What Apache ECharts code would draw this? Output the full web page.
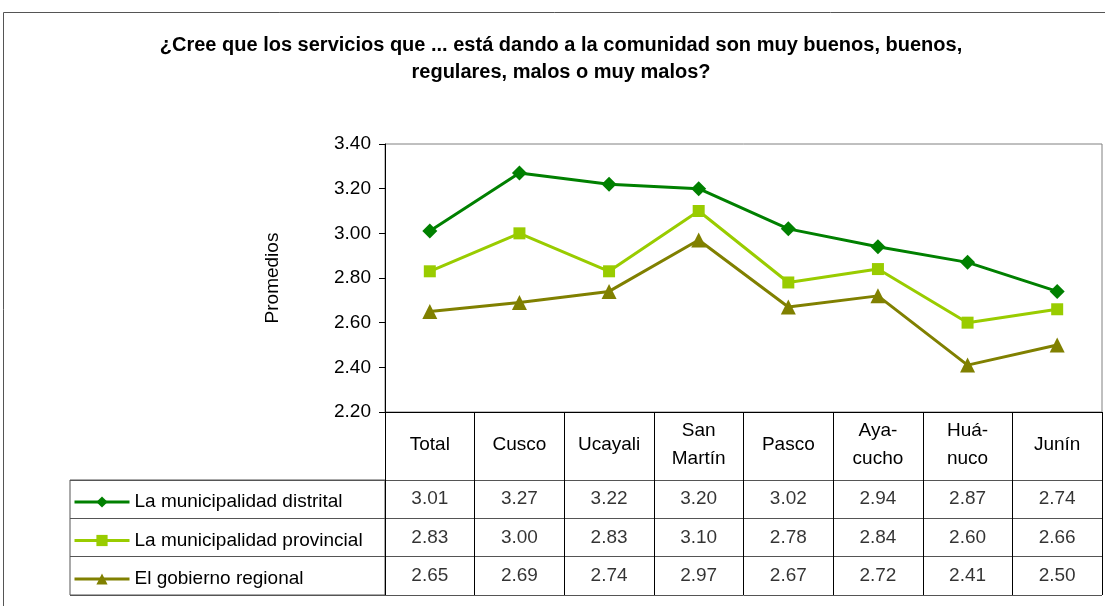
<!DOCTYPE html>
<html>
<head>
<meta charset="utf-8">
<script src="https://cdn.jsdelivr.net/npm/echarts@6/dist/echarts.min.js"></script>
<style>
  html, body { margin: 0; padding: 0; background: #fff; }
  #chart { width: 1105px; height: 606px; }
</style>
</head>
<body>
<div id="chart"></div>
<script>
const categories = ['Total', 'Cusco', 'Ucayali', 'San\nMartín', 'Pasco', 'Aya-\ncucho', 'Huá-\nnuco', 'Junín']
const seriesNames = ['La municipalidad distrital', 'La municipalidad provincial', 'El gobierno regional']
const distrital = [3.01, 3.27, 3.22, 3.20, 3.02, 2.94, 2.87, 2.74]
const provincial = [2.83, 3.00, 2.83, 3.10, 2.78, 2.84, 2.60, 2.66]
const regional = [2.65, 2.69, 2.74, 2.97, 2.67, 2.72, 2.41, 2.50]
const yMin = 2.2
const yMax = 3.4
const yStep = 0.2

const font = "'Liberation Sans', Arial, sans-serif"
const colors = ['#008000', '#99cc00', '#808000']
const symbols = ['diamond', 'rect', 'triangle']
const symbolSizes = [15, 12, 15]
const values = [distrital, provincial, regional]

const chart = echarts.init(document.getElementById('chart'))

const lineSeries = seriesNames.map((name, i) => ({
    name,
    type: 'line',
    data: values[i],
    color: colors[i],
    symbol: symbols[i],
    symbolSize: symbolSizes[i],
    showAllSymbol: true,
    lineStyle: { width: 3, color: colors[i] },
    itemStyle: { color: colors[i] },
    z: 3 - i
}))

// table cells: one label per category/series
const cellData = []
values.forEach((arr, r) => {
    arr.forEach((v, c) => cellData.push({ value: [c, r], label: { formatter: v.toFixed(2) } }))
})

chart.setOption({
    backgroundColor: '#fff',
    animation: false,
    title: {
        text: '¿Cree que los servicios que ... está dando a la comunidad son muy buenos, buenos,\nregulares, malos o muy malos?',
        left: 561,
        top: 32,
        padding: 0,
        textAlign: 'center',
        textStyle: { fontFamily: font, fontSize: 20, fontWeight: 'bold', color: '#000', lineHeight: 27 }
    },
    legend: {
        data: seriesNames,
        orient: 'vertical',
        left: 68,
        top: 487,
        itemWidth: 55,
        itemHeight: 14,
        itemGap: 18.5,
        lineStyle: { width: 3 },
        textStyle: { fontFamily: font, fontSize: 19, color: '#000', lineHeight: 20 },
        selectedMode: false
    },
    graphic: [{
        type: 'rect',
        shape: { x: 3.5, y: 12.5, width: 1110, height: 600 },
        style: { fill: 'none', stroke: '#555', lineWidth: 1 },
        silent: true
    }],
    grid: [
        { left: 385, right: 3, top: 144, bottom: 194, show: true, borderColor: '#808080', borderWidth: 1 },
        { left: 385, right: 3, top: 480, bottom: 11 },
        { left: 70, width: 315, top: 480, bottom: 11, show: true, borderColor: '#555', borderWidth: 1 }
    ],
    xAxis: [
        {
            type: 'category',
            gridIndex: 0,
            data: categories,
            boundaryGap: true,
            axisLine: { lineStyle: { color: '#000', width: 1 } },
            axisTick: { show: true, inside: false, length: 183, lineStyle: { color: '#000' } },
            axisLabel: {
                interval: 0, margin: 33, verticalAlign: 'middle',
                fontFamily: font, fontSize: 19, color: '#000', lineHeight: 28
            }
        },
        {
            type: 'category',
            gridIndex: 1,
            data: categories,
            axisLine: { show: false },
            axisTick: { show: false },
            axisLabel: { show: false }
        },
        {
            type: 'category',
            gridIndex: 2,
            data: [''],
            axisLine: { show: false },
            axisTick: { show: false },
            axisLabel: { show: false }
        }
    ],
    yAxis: [
        {
            type: 'value',
            gridIndex: 0,
            min: yMin,
            max: yMax,
            interval: yStep,
            name: 'Promedios',
            nameLocation: 'middle',
            nameGap: 103,
            nameRotate: 90,
            nameTextStyle: { fontFamily: font, fontSize: 19, color: '#000' },
            axisLine: { show: true, lineStyle: { color: '#000' } },
            axisTick: { show: true, inside: false, length: 6, lineStyle: { color: '#000' } },
            splitLine: { show: false },
            axisLabel: {
                margin: 14,
                formatter: v => v.toFixed(2),
                fontFamily: font, fontSize: 19, color: '#000'
            }
        },
        {
            type: 'category',
            gridIndex: 1,
            data: seriesNames,
            inverse: true,
            axisLine: { show: false },
            axisTick: { show: false },
            axisLabel: { show: false },
            splitLine: { show: true, lineStyle: { color: '#555', width: 1 } }
        },
        {
            type: 'category',
            gridIndex: 2,
            data: seriesNames,
            inverse: true,
            axisLine: { show: false },
            axisTick: { show: false },
            axisLabel: { show: false },
            splitLine: { show: true, lineStyle: { color: '#555', width: 1 } }
        }
    ],
    series: [
        ...lineSeries,
        {
            name: 'tabla',
            type: 'scatter',
            xAxisIndex: 1,
            yAxisIndex: 1,
            symbolSize: 1,
            itemStyle: { color: 'rgba(0,0,0,0)' },
            label: {
                show: true,
                position: 'inside',
                fontFamily: font,
                fontSize: 19,
                color: '#000'
            },
            data: cellData,
            silent: true
        }
    ]
})
</script>
</body>
</html>
